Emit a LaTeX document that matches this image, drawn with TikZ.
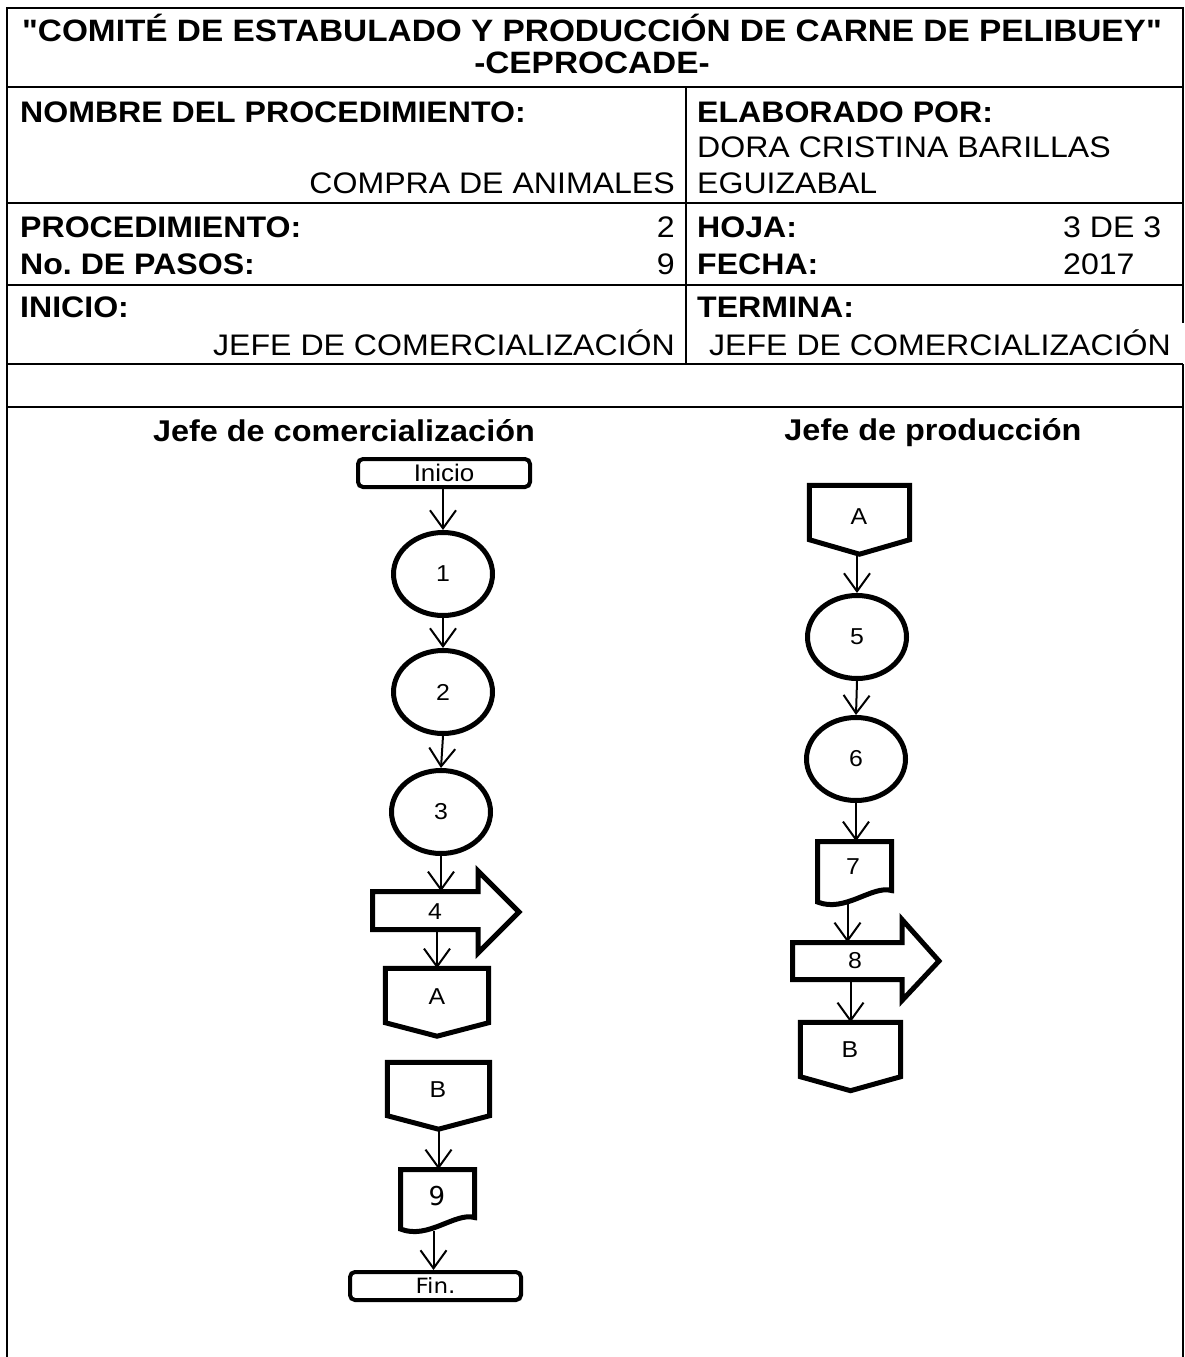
\documentclass[tikz,border=0pt]{standalone}
\usepackage{fontspec}
\setmainfont{Liberation Sans}[FakeStretch=1.08]
\newfontfamily\qfont{Liberation Sans}[FakeStretch=1.08]
\newfontfamily\djv{DejaVu Sans}[FakeStretch=1.1]
\newfontfamily\djvn{DejaVu Sans}
\usetikzlibrary{arrows.meta,shapes.geometric}
\frenchspacing
\begin{document}
\begin{tikzpicture}[x=1pt,y=-1pt,
  frameline/.style={line width=1.8pt},
  ttl/.style={anchor=base,inner sep=0pt,font=\qfont\bfseries\fontsize{30.9}{32}\selectfont},
  hb/.style={anchor=base west,inner sep=0pt,font=\bfseries\fontsize{29.7}{32}\selectfont},
  hr/.style={anchor=base west,inner sep=0pt,font=\fontsize{29.7}{32}\selectfont},
  hre/.style={anchor=base east,inner sep=0pt,font=\fontsize{29.7}{32}\selectfont},
  lanehead/.style={anchor=base,inner sep=0pt,font=\bfseries\fontsize{30}{32}\selectfont},
  shp/.style={line width=5pt,line join=miter},
  termbox/.style={draw,line width=4pt,rounded corners=5pt,minimum width=172pt,minimum height=28pt,inner sep=0pt},
  proc/.style={draw,ellipse,line width=5pt,minimum width=99pt,minimum height=83pt,inner sep=0pt,font=\fontsize{23}{25}\selectfont},
  shapebox/.style={rectangle,inner sep=0pt,draw=none},
  lbl/.style={inner sep=0pt,font=\fontsize{23}{25}\selectfont},
  conn/.style={line width=2pt,-{Straight Barb[length=18pt,width=26pt]}}
]
\useasboundingbox (0,0) rectangle (1185,1357);
\fill[white] (0,0) rectangle (1185,1357);

% ---- frame ----
\draw[frameline] (7,1357) -- (7,8) -- (1183,8) -- (1183,323);
\draw[frameline] (1183,364) -- (1183,1357);
\draw[frameline] (7,87) -- (1183,87);
\draw[frameline] (7,203) -- (1183,203);
\draw[frameline] (7,285) -- (1183,285);
\draw[frameline] (7,364) -- (1183,364);
\draw[frameline] (7,407) -- (1183,407);
\draw[frameline] (686,87) -- (686,364);

% ---- header texts ----
\node[ttl] (t1) at (592,41.5) {"COMITÉ DE ESTABULADO Y PRODUCCIÓN DE CARNE DE PELIBUEY"};
\node[ttl] (t2) at (592,73.5) {-CEPROCADE-};
\node[hb] (h1) at (20,122.5) {NOMBRE DEL PROCEDIMIENTO:};
\node[hb] (h2) at (697,122.5) {ELABORADO POR:};
\node[hr] (h3) at (697,157.5) {DORA CRISTINA BARILLAS};
\node[hre] (h4) at (675,193.5) {COMPRA DE ANIMALES};
\node[hr] (h5) at (697,193.5) {EGUIZABAL};
\node[hb] (h6) at (20,237.5) {PROCEDIMIENTO:};
\node[hre] (h7) at (675,237.5) {2};
\node[hb] (h8) at (697,237.5) {HOJA:};
\node[hr] (h9) at (1063,237.5) {3 DE 3};
\node[hb] (h10) at (20,274.5) {No. DE PASOS:};
\node[hre] (h11) at (675,274.5) {9};
\node[hb] (h12) at (697,274.5) {FECHA:};
\node[hr] (h13) at (1063,274.5) {2017};
\node[hb] (h14) at (20,317) {INICIO:};
\node[hb] (h15) at (697,317) {TERMINA:};
\node[hre] (h16) at (675,355.5) {JEFE DE COMERCIALIZACIÓN};
\node[hr] (h17) at (709,355.5) {JEFE DE COMERCIALIZACIÓN};

% ---- lane headings ----
\node[lanehead] (lane1) at (344,441) {Jefe de comercialización};
\node[lanehead] (lane2) at (933,440) {Jefe de producción};

% ---- left column ----
\node[termbox,font=\fontsize{24}{26}\selectfont] (ini) at (444,473) {Inicio};
\node[proc] (c1) at (443,574) {1};
\node[proc] (c2) at (443,692) {2};
\node[proc] (c3) at (441,812) {3};
% block arrow 4
\node[shapebox,minimum width=105.5pt,minimum height=38pt] (b4) at (425.25,910.5) {};
\draw[shp] (372.5,891.5) -- (478,891.5) -- (478,871) -- (519,912) -- (478,953) -- (478,929.5) -- (372.5,929.5) -- cycle;
\node[lbl] (l4) at (435,912) {4};
% off-page A
\node[shapebox,minimum width=103pt,minimum height=67.5pt] (offA) at (437,1002.25) {};
\draw[shp] (offA.north west) -- (offA.north east) -- ([yshift=13.5pt]offA.south east) -- (offA.south) -- ([yshift=13.5pt]offA.south west) -- cycle;
\node[lbl] (lA) at (437,997) {A};
% off-page B
\node[shapebox,minimum width=102pt,minimum height=66.5pt] (offB) at (438.5,1095.75) {};
\draw[shp] (offB.north west) -- (offB.north east) -- ([yshift=13.5pt]offB.south east) -- (offB.south) -- ([yshift=13.5pt]offB.south west) -- cycle;
\node[lbl] (lB) at (438,1090) {B};
% document 9
\node[shapebox,minimum width=74pt,minimum height=61.5pt] (doc9) at (437.5,1200.25) {};
\draw[shp] (400.5,1169.5) -- (474.5,1169.5) -- (474.5,1217.5) .. controls (455,1212) and (428,1240) .. (400.5,1229) -- cycle;
\node[inner sep=0pt,font=\djvn\fontsize{26}{28}\selectfont] (l9) at (437,1196) {9};
% Fin
\node[termbox,minimum width=171pt,font=\djv\fontsize{21}{23}\selectfont] (fin) at (435.5,1286) {Fin.};

\draw[conn] (c1.north |- ini.south) -- (c1.north);
\draw[conn] (c1.south) -- (c2.north);
\draw[conn] (c2.south) -- (c3.north);
\draw[conn] (c3.south) -- (c3.south |- b4.north);
\draw[conn] (offA.north |- b4.south) -- (offA.north);
\draw[conn] (offB.south) -- (offB.south |- doc9.north);
\draw[conn] ([xshift=-4pt]doc9.south) -- ([xshift=-4pt]doc9.south |- fin.north);

% ---- right column ----
\node[shapebox,minimum width=100pt,minimum height=68.5pt] (offA2) at (859.5,519.75) {};
\draw[shp] (offA2.north west) -- (offA2.north east) -- ([yshift=14.5pt]offA2.south east) -- (offA2.south) -- ([yshift=14.5pt]offA2.south west) -- cycle;
\node[lbl] (lA2) at (859,517) {A};
\node[proc] (c5) at (857,637) {5};
\node[proc] (c6) at (856,759) {6};
% document 7
\node[shapebox,minimum width=74pt,minimum height=61.5pt] (doc7) at (854.5,872.25) {};
\draw[shp] (817.5,841.5) -- (891.5,841.5) -- (891.5,890.5) .. controls (872,885) and (845,913) .. (817.5,902) -- cycle;
\node[lbl] (l7) at (853,867) {7};
% block arrow 8
\node[shapebox,minimum width=109.5pt,minimum height=37pt] (b8) at (847.25,961) {};
\draw[shp] (792.5,942.5) -- (902,942.5) -- (902,919.5) -- (939,961) -- (902,1000.5) -- (902,979.5) -- (792.5,979.5) -- cycle;
\node[lbl] (l8) at (855,961) {8};
% off-page B (right)
\node[shapebox,minimum width=100pt,minimum height=68pt] (offB2) at (850.5,1056.5) {};
\draw[shp] (offB2.north west) -- (offB2.north east) -- ([yshift=14pt]offB2.south east) -- (offB2.south) -- ([yshift=14pt]offB2.south west) -- cycle;
\node[lbl] (lB2) at (850,1050) {B};

\draw[conn] (c5.north |- offA2.south) -- (c5.north);
\draw[conn] (c5.south) -- (c6.north);
\draw[conn] (c6.south) -- (c6.south |- doc7.north);
\draw[conn] ([xshift=-7pt]doc7.south) -- ([xshift=-7pt]doc7.south |- b8.north);
\draw[conn] (offB2.north |- b8.south) -- (offB2.north);
\end{tikzpicture}
\end{document}
